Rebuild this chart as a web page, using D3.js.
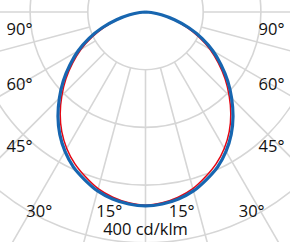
<!DOCTYPE html>
<html>
<head>
<meta charset="utf-8">
<script src="https://cdn.jsdelivr.net/npm/d3@7/dist/d3.min.js"></script>
<style>
html,body{margin:0;padding:0;background:#fff;}
svg{display:block;}
text{font-family:"Open Sans",sans-serif;fill:#111;}
</style>
</head>
<body>
<svg id="chart" width="290" height="242"></svg>
<script>
// ---- data ----
const gammaAngles = [0,5,10,15,20,25,30,35,40,45,50,55,60,65,70,75,80,85,90];
const planeBlue   = [336,334,329,321,309,296,279,259,236,211,186,160,135,108,80,52,28,10,0];
const planeRed    = [335,332,326,317,304,290,273,253,230,205,180,154,129,102,75,48,26,9,0];
const circleValues = [100,200,300,400];
const spokeAngles = d3.range(0,360,15);
const angleLabels = [90,60,45,30,15];
const scaleLabel = "400 cd/klm";

// ---- layout ----
const W=290,H=242, cx=145.5, cy=12;
const svg=d3.select("#chart");
const r=d3.scaleLinear().domain([0,100]).range([0,57.7]);
const g=svg.append("g").attr("transform",`translate(${cx},${cy})`);
const rad=d=>d*Math.PI/180;

// circles
g.selectAll("circle.grid").data(circleValues).enter().append("circle")
 .attr("r",d=>r(d)).attr("fill","none").attr("stroke","#d6d6d6").attr("stroke-width",1.6);

// spokes from inner circle outwards
g.selectAll("line.spoke").data(spokeAngles).enter().append("line")
 .attr("x1",d=>r(circleValues[0])*Math.sin(rad(d)))
 .attr("y1",d=>r(circleValues[0])*Math.cos(rad(d)))
 .attr("x2",d=>r(1000)*Math.sin(rad(d)))
 .attr("y2",d=>r(1000)*Math.cos(rad(d)))
 .attr("stroke","#d6d6d6").attr("stroke-width",1.6);

// curves
function fullCurve(vals){
  const pts=[];
  for(let i=gammaAngles.length-1;i>=0;i--) pts.push([Math.PI+rad(gammaAngles[i]), vals[i]]);
  for(let i=1;i<gammaAngles.length;i++) pts.push([Math.PI-rad(gammaAngles[i]), vals[i]]);
  return pts;
}
const lr=d3.lineRadial().angle(d=>d[0]).radius(d=>r(d[1])).curve(d3.curveCatmullRom);
g.append("path").attr("d",lr(fullCurve(planeRed))).attr("fill","none").attr("stroke","#e30613").attr("stroke-width",1.5);
g.append("path").attr("d",lr(fullCurve(planeBlue))).attr("fill","none").attr("stroke","#1766b0").attr("stroke-width",3.2);

// angle labels (placed along the inner edge of the frame)
const edgeX=19.5, edgeY=216.5;
function labelPos(a){
  if(a>=45){
    const dy = a>=89 ? 23 : (W/2 - edgeX)/Math.tan(rad(a)) + (a===45?14:6);
    return [edgeX, cy+dy];
  } else {
    const dx = (edgeY-6-cy)*Math.tan(rad(a)) - (a===30?8.4:17);
    return [cx-dx, edgeY];
  }
}
angleLabels.forEach(a=>{
  const [x,y]=labelPos(a);
  [x, 2*cx-x].forEach(xx=>{
    svg.append("text").attr("x",xx).attr("y",y).attr("text-anchor","middle")
      .attr("font-size",16.5).text(a+"°");
  });
});
svg.append("text").attr("x",cx).attr("y",235).attr("text-anchor","middle")
  .attr("font-size",16.5).text(scaleLabel);
</script>
</body>
</html>
